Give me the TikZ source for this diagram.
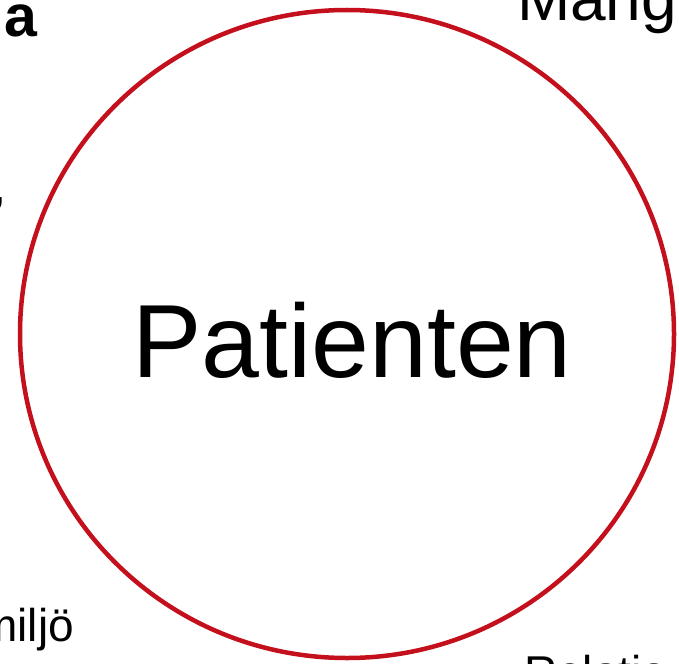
\documentclass[tikz,border=0pt]{standalone}
\usepackage{fontspec}
\setmainfont{Liberation Sans}
\usetikzlibrary{shapes.geometric}
\definecolor{ringred}{RGB}{196,16,28}
\begin{document}
\begin{tikzpicture}[x=1pt,y=-1pt,
  lbl/.style={inner sep=0pt,outer sep=0pt,font=\fontsize{46}{50}\selectfont},
  ring/.style={draw=ringred,line width=4.5pt}]
\useasboundingbox (0,0) rectangle (679,663);
\clip (0,0) rectangle (679,663);
\node[ring,ellipse,minimum width=654pt,minimum height=648pt,inner sep=0pt] (p) at (347,334) {};
\node[inner sep=0pt,anchor=base,font=\fontsize{104}{110}\selectfont] (pt) at (352,377) {Patienten};
\node[lbl,anchor=base east,font=\fontsize{59}{62}\selectfont\bfseries] (a) at (37,37) {a};
\node[lbl,anchor=base west,font=\fontsize{64}{68}\selectfont] (m) at (517,21) {Mang};
\node[lbl,anchor=base east] (c) at (6,202) {,};
\node[lbl,anchor=base east] (mi) at (74,641) {miljö};
\node[lbl,anchor=base west] (r) at (524,688) {Relatio};
\end{tikzpicture}
\end{document}
